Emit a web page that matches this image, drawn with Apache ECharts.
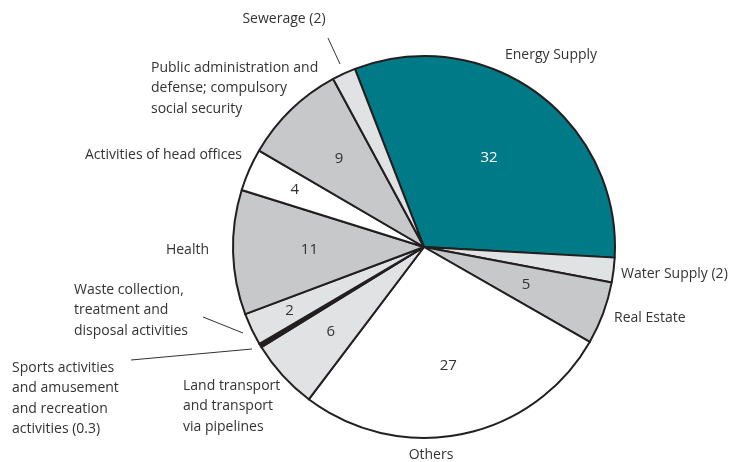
<!DOCTYPE html>
<html>
<head>
<meta charset="utf-8">
<script src="https://cdn.jsdelivr.net/npm/echarts@6/dist/echarts.min.js"></script>
<style>
  html, body { margin: 0; padding: 0; background: #fff; }
  #chart { width: 732px; height: 462px; }
</style>
</head>
<body>
<div id="chart"></div>
<script>
// sectors, clockwise from the top-left edge of Energy Supply
var sectors = ['Energy Supply', 'Water Supply', 'Real Estate', 'Others', 'Land transport',
    'Sports activities', 'Waste collection', 'Health', 'Activities of head offices',
    'Public administration', 'Sewerage'];
// slice sizes as drawn in the picture (percent)
var shares = [31.8, 2.1, 5.3, 27.05, 5.9, 0.33, 2.75, 10.55, 3.6, 8.7, 2.0];
// numbers printed inside the slices ('' = none)
var insideText = ['32', '', '5', '27', '6', '', '2', '11', '4', '9', ''];
// outside captions
var captions = ['Energy Supply', 'Water Supply (2)', 'Real Estate', 'Others',
    'Land transport\nand transport\nvia pipelines',
    'Sports activities\nand amusement\nand recreation\nactivities (0.3)',
    'Waste collection,\ntreatment and\ndisposal activities',
    'Health', 'Activities of head offices',
    'Public administration and\ndefense; compulsory\nsocial security', 'Sewerage (2)'];

var TEAL = '#007a86', MID = '#c7c8ca', LIGHT = '#e1e2e4';
var fills = [TEAL, LIGHT, MID, '#ffffff', LIGHT, '#231f20', LIGHT, MID, '#ffffff', MID, LIGHT];
var radialPos = [0.58, 0, 0.57, 0.635, 0.66, 0, 0.78, 0.60, 0.74, 0.64, 0];

var cx = 424, cy = 247, R = 191, startAngle = 111.2;
var FONT = '"Open Sans", sans-serif';
var LH = 20.4;
var total = shares.reduce(function (a, b) { return a + b; }, 0);

function midAngle(i) {
    var before = 0;
    for (var k = 0; k < i; k++) before += shares[k];
    var a = startAngle - (before + shares[i] / 2) / total * 360;
    return a * Math.PI / 180;
}

// caption positions: x, centre of first line, align
var capPos = [
    [551, 55, 'center'], [621, 274, 'left'], [614, 318, 'left'], [431, 455, 'center'],
    [183, 386, 'left'], [12, 368, 'left'], [74, 290, 'left'],
    [209, 250, 'right'], [242, 155, 'right'], [151, 68, 'left'], [284, 19, 'center']
];
var leaders = [[328, 38, 340, 64], [203, 317, 243, 333], [131, 360, 252, 349]];

var graphics = [];
captions.forEach(function (c, i) {
    var p = capPos[i];
    graphics.push({
        type: 'text', x: p[0], y: p[1] - LH / 2,
        style: {
            text: c, fill: '#333333', font: '14px ' + FONT,
            align: p[2], verticalAlign: 'top', lineHeight: LH
        }
    });
});
leaders.forEach(function (l) {
    graphics.push({
        type: 'line', shape: { x1: l[0], y1: l[1], x2: l[2], y2: l[3] },
        style: { stroke: '#333333', lineWidth: 1 }
    });
});

var chart = echarts.init(document.getElementById('chart'));
chart.setOption({
    animation: false,
    backgroundColor: '#ffffff',
    graphic: graphics,
    series: [{
        type: 'pie',
        center: [cx, cy],
        radius: [0, R],
        startAngle: startAngle,
        clockwise: true,
        silent: true,
        itemStyle: { borderColor: '#231f20', borderWidth: 2 },
        label: {
            show: true,
            position: 'inside',
            formatter: function (p) { return insideText[p.dataIndex]; },
            fontFamily: FONT,
            fontSize: 15,
            color: '#333333'
        },
        labelLine: { show: false },
        labelLayout: function (p) {
            var i = p.dataIndex;
            var a = midAngle(i);
            var r = radialPos[i] * R;
            return {
                x: cx + r * Math.cos(a),
                y: cy - r * Math.sin(a),
                align: 'center',
                verticalAlign: 'middle'
            };
        },
        data: sectors.map(function (s, i) {
            return {
                name: s,
                value: shares[i],
                itemStyle: { color: fills[i] },
                label: i === 0 ? { color: '#ffffff' } : {}
            };
        })
    }]
});
</script>
</body>
</html>
